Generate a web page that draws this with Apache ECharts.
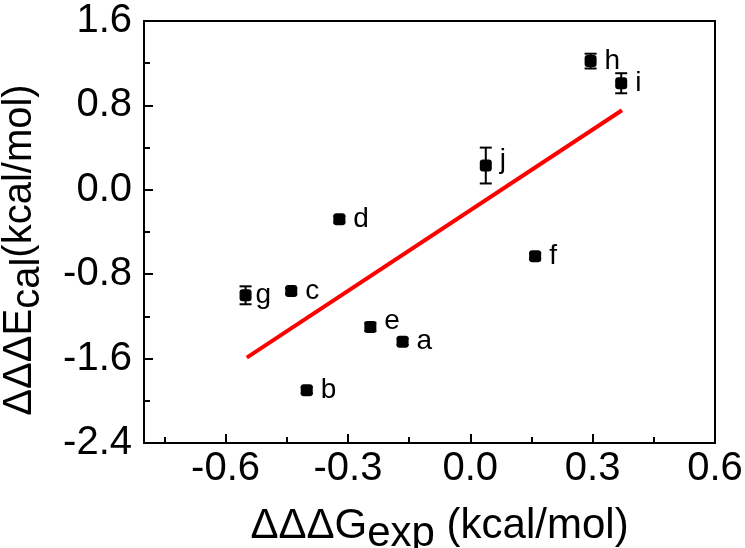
<!DOCTYPE html>
<html>
<head>
<meta charset="utf-8">
<script src="https://cdn.jsdelivr.net/npm/echarts@6/dist/echarts.min.js"></script>
<style>
  html, body { margin: 0; padding: 0; background: #fff; }
  #chart { width: 745px; height: 548px; }
</style>
</head>
<body>
<div id="chart"></div>
<script>
// point data
const names = ['a', 'b', 'c', 'd', 'e', 'f', 'g', 'h', 'i', 'j'];
const ddgExp = [-0.166, -0.401, -0.439, -0.321, -0.245, 0.159, -0.551, 0.295, 0.370, 0.038];
const ddeCal = [-1.44, -1.90, -0.96, -0.28, -1.30, -0.63, -1.00, 1.22, 1.01, 0.23];
const ddeErr = [0.03, 0.03, 0.03, 0.03, 0.04, 0.03, 0.085, 0.07, 0.095, 0.17];
// fitted line end points
const fitX = [-0.548, 0.372];
const fitY = [-1.59, 0.754];
// axis ticks
const xLabels = [-0.6, -0.3, 0, 0.3, 0.6];
const xMinor = [-0.75, -0.45, -0.15, 0.15, 0.45];
const yLabels = [-2.4, -1.6, -0.8, 0, 0.8, 1.6];
const yMinor = [-2.0, -1.2, -0.4, 0.4, 1.2];

// small label shifts so letters sit like in the figure
const labelNudge = { e: [0, -6], g: [-4, 0], j: [0, -5] };

const font = 'Arial, "Liberation Sans", sans-serif';
let chart = echarts.init(document.getElementById('chart'));

let points = names.map(function (n, i) {
    let item = { name: n, value: [ddgExp[i], ddeCal[i]] };
    if (labelNudge[n]) {
        item.label = { offset: labelNudge[n] };
    }
    return item;
});
let bars = names.map(function (n, i) {
    return [ddgExp[i], ddeCal[i] - ddeErr[i], ddeCal[i] + ddeErr[i]];
});

function baseAxis(min, max, lineShow) {
    return {
        type: 'value',
        min: min,
        max: max,
        splitLine: { show: false },
        axisLine: { show: lineShow, onZero: false, lineStyle: { color: '#000', width: 2 } }
    };
}

let option = {
    animation: false,
    grid: {
        left: 144, right: 30, top: 21, bottom: 105,
        containLabel: false,
        outerBoundsMode: 'none',
        show: true, borderColor: '#000', borderWidth: 2
    },
    xAxis: [
        Object.assign(baseAxis(-0.8, 0.6, true), {
            position: 'bottom',
            axisTick: { inside: true, length: 9, customValues: xLabels, lineStyle: { color: '#000', width: 2 } },
            axisLabel: {
                customValues: xLabels, margin: 6, color: '#000', fontSize: 40, fontFamily: font,
                formatter: function (v) { return v.toFixed(1); }
            },
            name: '{a|ΔΔΔG}{b|exp}{a| (kcal/mol)}',
            nameLocation: 'middle',
            nameGap: 54,
            nameTextStyle: {
                padding: [0, 0, 0, 20],
                rich: {
                    a: { fontSize: 42, fontFamily: font, color: '#000' },
                    b: { fontSize: 42, fontFamily: font, color: '#000', padding: [16, 0, 0, 0] }
                }
            }
        }),
        Object.assign(baseAxis(-0.8, 0.6, false), {
            position: 'bottom',
            axisTick: { inside: true, length: 6, customValues: xMinor, lineStyle: { color: '#000', width: 2 } },
            axisLabel: { show: false }
        })
    ],
    yAxis: [
        Object.assign(baseAxis(-2.4, 1.6, true), {
            position: 'left',
            axisTick: { inside: true, length: 9, customValues: yLabels, lineStyle: { color: '#000', width: 2 } },
            axisLabel: {
                customValues: yLabels, margin: 12, color: '#000', fontSize: 40, fontFamily: font,
                formatter: function (v) { return v.toFixed(1); }
            },
            name: '{a|ΔΔΔE}{b|cal}{a|(kcal/mol)}',
            nameLocation: 'middle',
            nameGap: 96,
            nameTextStyle: {
                padding: [0, 36, 0, 0],
                rich: {
                    a: { fontSize: 40, fontFamily: font, color: '#000' },
                    b: { fontSize: 40, fontFamily: font, color: '#000', padding: [16, 0, 0, 0] }
                }
            }
        }),
        Object.assign(baseAxis(-2.4, 1.6, false), {
            position: 'left',
            axisTick: { inside: true, length: 6, customValues: yMinor, lineStyle: { color: '#000', width: 2 } },
            axisLabel: { show: false }
        })
    ],
    series: [
        {
            type: 'line',
            data: fitX.map(function (x, i) { return [x, fitY[i]]; }),
            showSymbol: false,
            lineStyle: { color: '#f00', width: 4 },
            z: 1
        },
        {
            type: 'custom',
            data: bars,
            renderItem: function (params, api) {
                let top = api.coord([api.value(0), api.value(2)]);
                let bot = api.coord([api.value(0), api.value(1)]);
                let w = 6;
                let st = { stroke: '#000', lineWidth: 2 };
                return {
                    type: 'group',
                    children: [
                        { type: 'line', shape: { x1: top[0], y1: top[1], x2: bot[0], y2: bot[1] }, style: st },
                        { type: 'line', shape: { x1: top[0] - w, y1: top[1], x2: top[0] + w, y2: top[1] }, style: st },
                        { type: 'line', shape: { x1: bot[0] - w, y1: bot[1], x2: bot[0] + w, y2: bot[1] }, style: st }
                    ]
                };
            },
            z: 2
        },
        {
            type: 'scatter',
            data: points,
            symbol: 'roundRect',
            symbolSize: 12,
            itemStyle: { color: '#000', opacity: 1 },
            label: {
                show: true,
                position: 'right',
                distance: 8,
                formatter: '{b}',
                color: '#000',
                fontSize: 28,
                fontFamily: font
            },
            z: 3
        }
    ]
};
chart.setOption(option);
</script>
</body>
</html>
